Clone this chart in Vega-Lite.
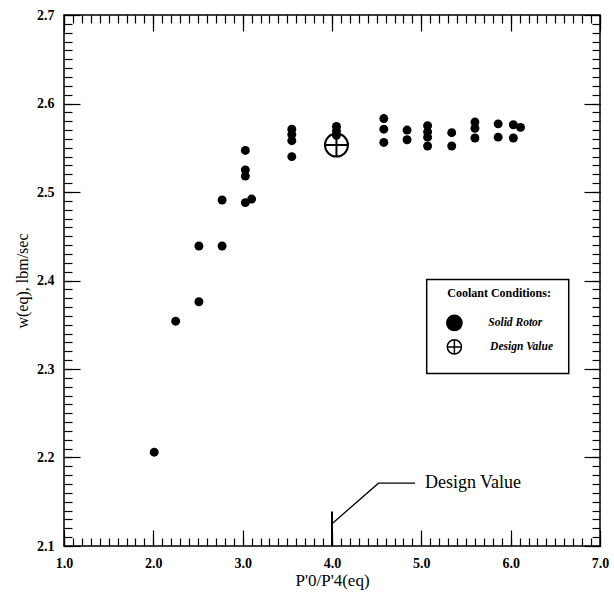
{
  "$schema": "https://vega.github.io/schema/vega-lite/v6.json",
  "width": 536,
  "height": 531,
  "autosize": {"type": "none"},
  "padding": {"left": 64, "top": 15, "right": 14, "bottom": 55},
  "background": "white",
  "config": {
    "view": {"stroke": "black", "strokeWidth": 1.5},
    "font": "Liberation Serif",
    "axis": {
      "grid": false,
      "domain": false,
      "tickColor": "black",
      "tickWidth": 1.2,
      "labelColor": "black",
      "titleColor": "black",
      "labelFont": "Liberation Serif",
      "titleFont": "Liberation Serif",
      "labelOverlap": false
    }
  },
  "datasets": {
    "solid": [
      {"x": 2.01, "y": 2.206}, {"x": 2.25, "y": 2.354}, {"x": 2.51, "y": 2.376},
      {"x": 2.51, "y": 2.439}, {"x": 2.77, "y": 2.439}, {"x": 2.77, "y": 2.491},
      {"x": 3.03, "y": 2.488}, {"x": 3.03, "y": 2.518}, {"x": 3.03, "y": 2.525},
      {"x": 3.03, "y": 2.547}, {"x": 3.10, "y": 2.492}, {"x": 3.55, "y": 2.540},
      {"x": 3.55, "y": 2.558}, {"x": 3.55, "y": 2.565}, {"x": 3.55, "y": 2.571},
      {"x": 4.05, "y": 2.564}, {"x": 4.05, "y": 2.569}, {"x": 4.05, "y": 2.574},
      {"x": 4.58, "y": 2.556}, {"x": 4.58, "y": 2.571}, {"x": 4.58, "y": 2.583},
      {"x": 4.84, "y": 2.559}, {"x": 4.84, "y": 2.570}, {"x": 5.07, "y": 2.552},
      {"x": 5.07, "y": 2.562}, {"x": 5.07, "y": 2.568}, {"x": 5.07, "y": 2.575},
      {"x": 5.34, "y": 2.552}, {"x": 5.34, "y": 2.567}, {"x": 5.60, "y": 2.561},
      {"x": 5.60, "y": 2.572}, {"x": 5.60, "y": 2.579}, {"x": 5.86, "y": 2.562},
      {"x": 5.86, "y": 2.577}, {"x": 6.03, "y": 2.561}, {"x": 6.03, "y": 2.576},
      {"x": 6.11, "y": 2.573}
    ],
    "design": [{"x": 4.05, "y": 2.553}],
    "leader": [
      {"x": 4.01, "y": 2.126, "o": 1},
      {"x": 4.52, "y": 2.171, "o": 2},
      {"x": 4.93, "y": 2.171, "o": 3}
    ],
    "designTick": [{"x": 4.0, "y": 2.1, "y2": 2.139}],
    "note": [{"x": 5.04, "y": 2.171, "label": "Design Value"}],
    "legendBox": [{"x": 5.06, "x2": 6.65, "y": 2.295, "y2": 2.401}],
    "legendTitle": [{"x": 5.87, "y": 2.386, "label": "Coolant Conditions:"}],
    "legendSolid": [{"x": 5.37, "y": 2.352}],
    "legendDesign": [{"x": 5.37, "y": 2.325}],
    "legendLabels": [
      {"x": 5.75, "y": 2.352, "label": "Solid Rotor"},
      {"x": 5.77, "y": 2.325, "label": "Design Value"}
    ]
  },
  "resolve": {
    "scale": {"x": "independent", "y": "independent"},
    "axis": {"x": "independent", "y": "independent"}
  },
  "layer": [
    {
      "data": {"name": "solid"},
      "mark": {"type": "point", "filled": true, "color": "black", "size": 80, "opacity": 1},
      "encoding": {
        "x": {
          "field": "x", "type": "quantitative",
          "scale": {"domain": [1, 7], "nice": false, "zero": false},
          "axis": {
            "orient": "bottom", "values": [1, 2, 3, 4, 5, 6, 7], "format": ".1f",
            "ticks": true, "tickSize": -16, "labelPadding": 26, "labelFontSize": 14,
            "labelFontWeight": "bold", "labelFlush": false,
            "title": "P'0/P'4(eq)", "titleFontSize": 17, "titleFontWeight": "normal", "titlePadding": 2
          }
        },
        "y": {
          "field": "y", "type": "quantitative",
          "scale": {"domain": [2.1, 2.7], "nice": false, "zero": false},
          "axis": {
            "orient": "left", "values": [2.1, 2.2, 2.3, 2.4, 2.5, 2.6, 2.7], "format": ".1f",
            "ticks": true, "tickSize": -16, "labelPadding": 26, "labelFontSize": 14,
            "labelFontWeight": "bold", "labelFlush": false,
            "title": "w(eq), lbm/sec", "titleFontSize": 16, "titleFontWeight": "normal", "titlePadding": 6
          }
        }
      }
    },
    {
      "data": {"name": "design"},
      "mark": {"type": "point", "shape": "M-1,0A1,1,0,1,0,1,0A1,1,0,1,0,-1,0ZM-1,0L1,0M0,-1L0,1", "filled": false, "color": "black", "strokeWidth": 2, "size": 530, "opacity": 1},
      "encoding": {
        "x": {"field": "x", "type": "quantitative", "scale": {"domain": [1, 7], "nice": false, "zero": false},
          "axis": {"orient": "top", "values": [1, 2, 3, 4, 5, 6, 7], "ticks": true, "tickSize": -16, "labels": false, "title": null}},
        "y": {"field": "y", "type": "quantitative", "scale": {"domain": [2.1, 2.7], "nice": false, "zero": false},
          "axis": {"orient": "right", "values": [2.1, 2.2, 2.3, 2.4, 2.5, 2.6, 2.7], "ticks": true, "tickSize": -16, "labels": false, "title": null}}
      }
    },
    {
      "data": {"name": "leader"},
      "mark": {"type": "line", "color": "black", "strokeWidth": 1.3},
      "encoding": {
        "x": {"field": "x", "type": "quantitative", "scale": {"domain": [1, 7], "nice": false, "zero": false},
          "axis": {"orient": "bottom", "values": [1,1.1,1.2,1.3,1.4,1.5,1.6,1.7,1.8,1.9,2,2.1,2.2,2.3,2.4,2.5,2.6,2.7,2.8,2.9,3,3.1,3.2,3.3,3.4,3.5,3.6,3.7,3.8,3.9,4,4.1,4.2,4.3,4.4,4.5,4.6,4.7,4.8,4.9,5,5.1,5.2,5.3,5.4,5.5,5.6,5.7,5.8,5.9,6,6.1,6.2,6.3,6.4,6.5,6.6,6.7,6.8,6.9,7], "ticks": true, "tickSize": -8, "labels": false, "title": null}},
        "y": {"field": "y", "type": "quantitative", "scale": {"domain": [2.1, 2.7], "nice": false, "zero": false},
          "axis": {"orient": "left", "values": [2.1,2.11,2.12,2.13,2.14,2.15,2.16,2.17,2.18,2.19,2.2,2.21,2.22,2.23,2.24,2.25,2.26,2.27,2.28,2.29,2.3,2.31,2.32,2.33,2.34,2.35,2.36,2.37,2.38,2.39,2.4,2.41,2.42,2.43,2.44,2.45,2.46,2.47,2.48,2.49,2.5,2.51,2.52,2.53,2.54,2.55,2.56,2.57,2.58,2.59,2.6,2.61,2.62,2.63,2.64,2.65,2.66,2.67,2.68,2.69,2.7], "ticks": true, "tickSize": -8, "labels": false, "title": null}},
        "order": {"field": "o", "type": "quantitative"}
      }
    },
    {
      "data": {"name": "designTick"},
      "mark": {"type": "rule", "color": "black", "strokeWidth": 2},
      "encoding": {
        "x": {"field": "x", "type": "quantitative", "scale": {"domain": [1, 7], "nice": false, "zero": false},
          "axis": {"orient": "top", "values": [1,1.1,1.2,1.3,1.4,1.5,1.6,1.7,1.8,1.9,2,2.1,2.2,2.3,2.4,2.5,2.6,2.7,2.8,2.9,3,3.1,3.2,3.3,3.4,3.5,3.6,3.7,3.8,3.9,4,4.1,4.2,4.3,4.4,4.5,4.6,4.7,4.8,4.9,5,5.1,5.2,5.3,5.4,5.5,5.6,5.7,5.8,5.9,6,6.1,6.2,6.3,6.4,6.5,6.6,6.7,6.8,6.9,7], "ticks": true, "tickSize": -8, "labels": false, "title": null}},
        "y": {"field": "y", "type": "quantitative", "scale": {"domain": [2.1, 2.7], "nice": false, "zero": false},
          "axis": {"orient": "right", "values": [2.1,2.11,2.12,2.13,2.14,2.15,2.16,2.17,2.18,2.19,2.2,2.21,2.22,2.23,2.24,2.25,2.26,2.27,2.28,2.29,2.3,2.31,2.32,2.33,2.34,2.35,2.36,2.37,2.38,2.39,2.4,2.41,2.42,2.43,2.44,2.45,2.46,2.47,2.48,2.49,2.5,2.51,2.52,2.53,2.54,2.55,2.56,2.57,2.58,2.59,2.6,2.61,2.62,2.63,2.64,2.65,2.66,2.67,2.68,2.69,2.7], "ticks": true, "tickSize": -8, "labels": false, "title": null}},
        "y2": {"field": "y2"}
      }
    },
    {
      "data": {"name": "note"},
      "mark": {"type": "text", "align": "left", "baseline": "middle", "font": "Liberation Serif", "fontSize": 18, "color": "black"},
      "encoding": {
        "x": {"field": "x", "type": "quantitative", "scale": {"domain": [1, 7], "nice": false, "zero": false}, "axis": null},
        "y": {"field": "y", "type": "quantitative", "scale": {"domain": [2.1, 2.7], "nice": false, "zero": false}, "axis": null},
        "text": {"field": "label"}
      }
    },
    {
      "data": {"name": "legendBox"},
      "mark": {"type": "rect", "fill": "white", "stroke": "black", "strokeWidth": 1.5},
      "encoding": {
        "x": {"field": "x", "type": "quantitative", "scale": {"domain": [1, 7], "nice": false, "zero": false}, "axis": null},
        "x2": {"field": "x2"},
        "y": {"field": "y", "type": "quantitative", "scale": {"domain": [2.1, 2.7], "nice": false, "zero": false}, "axis": null},
        "y2": {"field": "y2"}
      }
    },
    {
      "data": {"name": "legendTitle"},
      "mark": {"type": "text", "align": "center", "baseline": "middle", "font": "Liberation Serif", "fontSize": 12, "fontWeight": "bold", "color": "black"},
      "encoding": {
        "x": {"field": "x", "type": "quantitative", "scale": {"domain": [1, 7], "nice": false, "zero": false}, "axis": null},
        "y": {"field": "y", "type": "quantitative", "scale": {"domain": [2.1, 2.7], "nice": false, "zero": false}, "axis": null},
        "text": {"field": "label"}
      }
    },
    {
      "data": {"name": "legendSolid"},
      "mark": {"type": "point", "filled": true, "color": "black", "size": 280, "opacity": 1},
      "encoding": {
        "x": {"field": "x", "type": "quantitative", "scale": {"domain": [1, 7], "nice": false, "zero": false}, "axis": null},
        "y": {"field": "y", "type": "quantitative", "scale": {"domain": [2.1, 2.7], "nice": false, "zero": false}, "axis": null}
      }
    },
    {
      "data": {"name": "legendDesign"},
      "mark": {"type": "point", "shape": "M-1,0A1,1,0,1,0,1,0A1,1,0,1,0,-1,0ZM-1,0L1,0M0,-1L0,1", "filled": false, "color": "black", "strokeWidth": 1.5, "size": 200, "opacity": 1},
      "encoding": {
        "x": {"field": "x", "type": "quantitative", "scale": {"domain": [1, 7], "nice": false, "zero": false}, "axis": null},
        "y": {"field": "y", "type": "quantitative", "scale": {"domain": [2.1, 2.7], "nice": false, "zero": false}, "axis": null}
      }
    },
    {
      "data": {"name": "legendLabels"},
      "mark": {"type": "text", "align": "left", "baseline": "middle", "font": "Liberation Serif", "fontSize": 11.5, "fontStyle": "italic", "fontWeight": "bold", "color": "black"},
      "encoding": {
        "x": {"field": "x", "type": "quantitative", "scale": {"domain": [1, 7], "nice": false, "zero": false}, "axis": null},
        "y": {"field": "y", "type": "quantitative", "scale": {"domain": [2.1, 2.7], "nice": false, "zero": false}, "axis": null},
        "text": {"field": "label"}
      }
    }
  ]
}
